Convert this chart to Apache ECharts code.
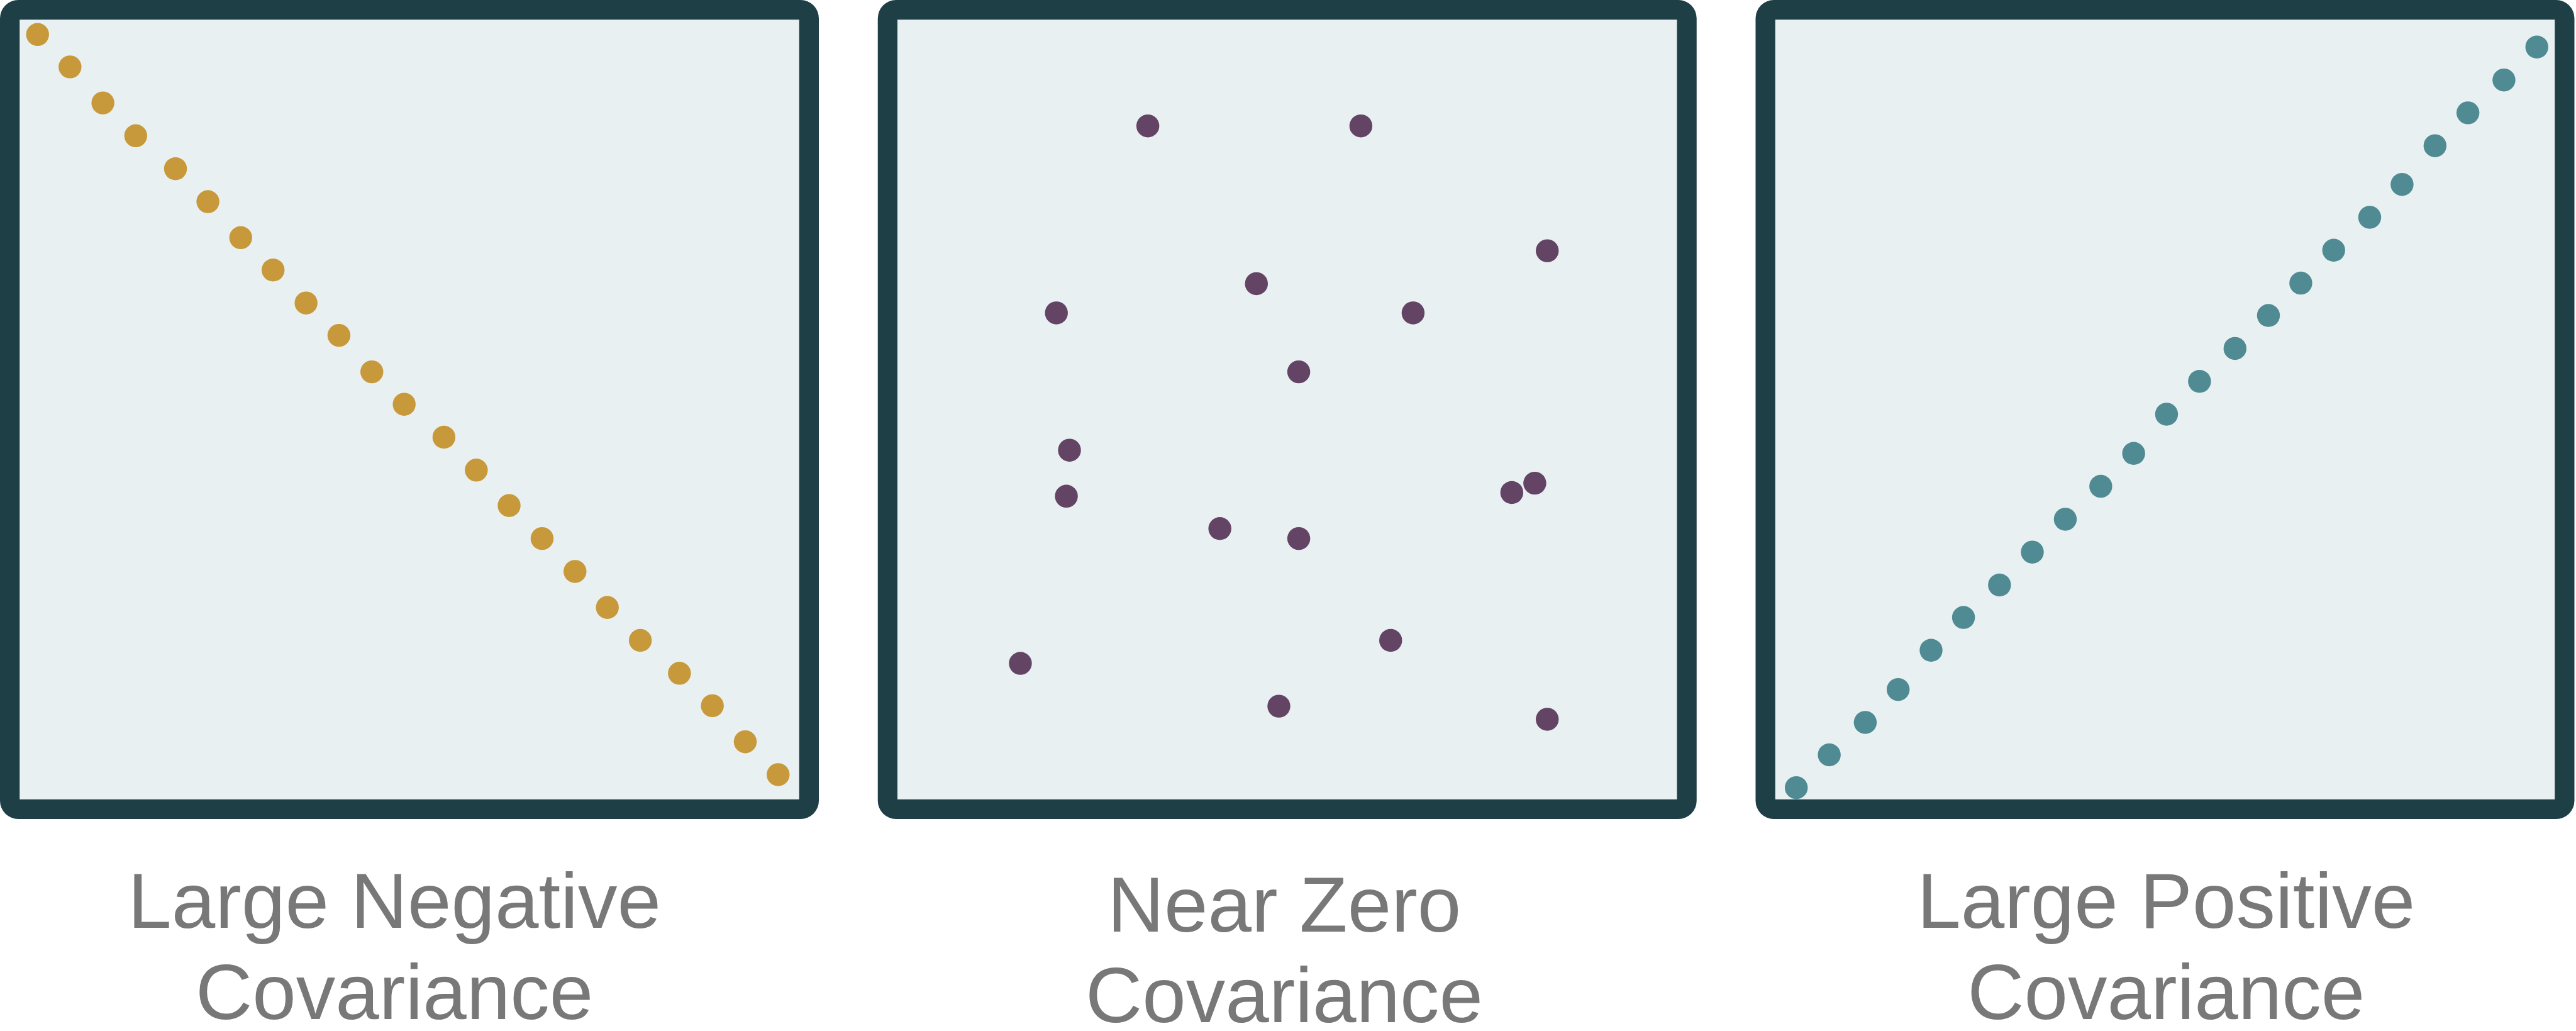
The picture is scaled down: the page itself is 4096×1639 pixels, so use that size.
<!DOCTYPE html>
<html>
<head>
<meta charset="utf-8">
<script src="https://cdn.jsdelivr.net/npm/echarts@6.0.0/dist/echarts.min.js"></script>
<style>
html,body{margin:0;padding:0;background:#ffffff;}
#chart{width:4096px;height:1639px;}
</style>
</head>
<body>
<div id="chart"></div>
<script>
// ---- data (normalized 0..100 within each panel) ----
const negX = [2.30, 6.46, 10.68, 14.89, 19.99, 24.15, 28.36, 32.51, 36.74, 40.96, 45.18, 49.33, 54.43, 58.58, 62.79, 67.02, 71.24, 75.39, 79.62, 84.64, 88.86, 93.08, 97.30];
const negY = [98.10, 93.94, 89.32, 85.11, 80.88, 76.66, 72.04, 67.89, 63.66, 59.51, 54.83, 50.67, 46.45, 42.23, 37.68, 33.45, 29.23, 24.61, 20.39, 16.17, 12.01, 7.39, 3.17];

const zeroX = [32.12, 59.45, 83.36, 46.05, 20.39, 66.15, 51.48, 22.07, 21.67, 81.76, 78.81, 41.36, 51.48, 63.27, 15.77, 48.93, 83.36];
const zeroY = [86.37, 86.37, 70.36, 66.14, 62.39, 62.39, 54.83, 44.78, 38.88, 40.55, 39.35, 34.73, 33.45, 20.39, 17.44, 11.95, 10.27];

const posX = [2.70, 6.93, 11.55, 15.77, 19.99, 24.15, 28.77, 32.98, 37.21, 41.76, 45.98, 50.20, 54.43, 58.98, 63.27, 67.42, 71.64, 76.26, 80.41, 84.64, 88.86, 93.48, 97.70];
const posY = [1.50, 5.71, 9.87, 14.09, 19.12, 23.33, 27.49, 31.71, 35.93, 40.15, 44.37, 49.40, 53.61, 57.83, 62.06, 66.21, 70.43, 74.65, 78.87, 83.83, 88.05, 92.26, 96.49];

const labelLine1 = ["Large Negative", "Near Zero", "Large Positive"];
const labelLine2 = ["Covariance", "Covariance", "Covariance"];

// ---- styling / layout ----
const S = 0.868;
const colors = ['#C8993A', '#634464', '#508B93'];
const frameColor = '#1F3F46';
const plotBg = '#E8F0F2';
const textColor = '#787878';
const panelLeft = [0, 1608, 3216];       // reference px
const panelSize = 1500;
const border = 36;
const textCenter = [722.5, 2352.5, 3968];
const textBase1 = [1710, 1716, 1710];
const textBase2 = [1876, 1882, 1876];
const fontSize = 144 * S;

function zip(xs, ys){ return xs.map((x,i)=>[x, ys[i]]); }
const seriesData = [zip(negX,negY), zip(zeroX,zeroY), zip(posX,posY)];

const grids = [], xAxes = [], yAxes = [], series = [], graphics = [];
for (let i = 0; i < 3; i++) {
  const innerL = (panelLeft[i] + border) * S;
  const innerT = border * S;
  const innerW = (panelSize - 2*border) * S;
  grids.push({left: innerL, top: innerT, width: innerW, height: innerW, show: false});
  xAxes.push({type:'value', gridIndex:i, min:0, max:100, show:false});
  yAxes.push({type:'value', gridIndex:i, min:0, max:100, show:false});
  series.push({
    type:'scatter', xAxisIndex:i, yAxisIndex:i, data: seriesData[i],
    symbol:'circle', symbolSize: 42*S,
    itemStyle:{color: colors[i], opacity:1},
    emphasis:{disabled:true}, silent:true, z:5
  });
  graphics.push({
    type:'rect', z:0,
    shape:{x: panelLeft[i]*S, y:0, width: panelSize*S, height: panelSize*S, r: 29},
    style:{fill: frameColor}
  });
  graphics.push({
    type:'rect', z:1,
    shape:{x: innerL, y: innerT, width: innerW, height: innerW},
    style:{fill: plotBg}
  });
  const mid = 0.3465 * fontSize;
  graphics.push({
    type:'text', z:1, x: textCenter[i]*S, y: textBase1[i]*S - mid,
    style:{text: labelLine1[i], fill: textColor, font: `${fontSize}px "Liberation Sans", Arial, sans-serif`, align:'center', verticalAlign:'middle'}
  });
  graphics.push({
    type:'text', z:1, x: textCenter[i]*S, y: textBase2[i]*S - mid,
    style:{text: labelLine2[i], fill: textColor, font: `${fontSize}px "Liberation Sans", Arial, sans-serif`, align:'center', verticalAlign:'middle'}
  });
}

const chart = echarts.init(document.getElementById('chart'), null, {renderer:'canvas'});
chart.setOption({
  animation:false,
  backgroundColor:'#ffffff',
  grid: grids, xAxis: xAxes, yAxis: yAxes, series: series,
  graphic: {elements: graphics}
});
</script>
</body>
</html>
